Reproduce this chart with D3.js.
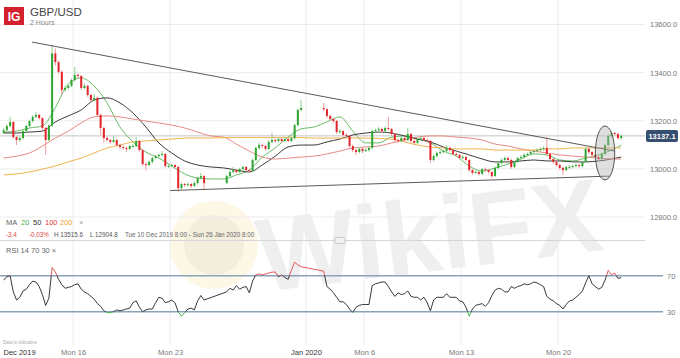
<!DOCTYPE html>
<html><head><meta charset="utf-8">
<script src="https://cdn.jsdelivr.net/npm/d3@7"></script>
<style>body{margin:0;background:#fff}svg{display:block;font-family:"Liberation Sans",Arial,sans-serif}</style>
</head><body><svg id="c" width="680" height="358"></svg>
<script>
// ---- data (4-hour bars from Tue 10 Dec 2019 08:00, trading hours only; null = holiday) ----
const firstOpen = 13150;
const closes = [13161,13178,13195,13132,13120,13128,13157,13178,13199,13216,
13224,13211,13170,13120,13180,13480,13444,13403,13328,13336,
13345,13369,13390,13386,13336,13345,13307,13286,13295,13224,
13170,13128,13120,13112,13120,13099,13091,13087,13083,13095,
13095,13116,13078,13020,13016,13029,13045,13053,13058,13062,
13012,13012,13016,13008,12920,12937,12933,12937,12929,12941,
12962,12970,12941,null,null,null,null,null,null,12970,
12987,12995,12987,12999,13008,12995,12991,13037,13087,13099,
13095,13083,13112,13120,13116,13124,13116,13124,13116,13128,
13182,13245,13253,null,null,null,null,null,null,13248,
13220,13207,13199,13153,13157,13141,13137,13095,13078,13070,
13083,13074,13078,13087,13157,13161,13166,13157,13170,13166,
13145,13120,13116,13128,13120,13145,13116,13108,13124,13128,
13120,13116,13037,13053,13066,13070,13074,13087,13078,13062,
13058,13045,13049,13037,12995,12983,12987,12979,12999,12995,
12987,12970,13004,13024,13037,13045,13037,13008,13029,13045,
13049,13058,13062,13070,13074,13078,13083,13087,13062,13041,
13029,13016,13004,12995,13008,13008,13012,13016,13012,13029,
13083,13070,13058,13049,13041,13062,13099,13137,13149,13145,
13128,13137.1];
const highs = [13170,13186,13216,13198,13137,13135,13162,13184,13205,13224,
13236,13230,13214,13175,13186,13515.6,13500,13450,13410,13345,
13352,13375,13423,13398,13390,13355,13350,13312,13311,13300,
13230,13175,13135,13126,13137,13125,13104,13096,13092,13100,
13104,13132,13120,13083,13026,13035,13050,13058,13064,13074,
13066,13020,13022,13020,13012,12944,12942,12945,12941,12948,
12968,12983,12975,null,null,null,null,null,null,12976,
12994,13008,13000,13005,13014,13012,13000,13043,13093,13108,
13105,13100,13118,13149,13126,13130,13130,13132,13130,13135,
13188,13252,13286,null,null,null,null,null,null,13274,
13252,13226,13212,13204,13166,13162,13148,13140,13100,13084,
13090,13090,13086,13094,13163,13168,13174,13172,13177,13216,
13170,13150,13126,13134,13133,13170,13150,13122,13130,13136,
13134,13126,13120,13060,13072,13078,13080,13099,13092,13082,
13068,13062,13056,13054,13040,13000,12994,12992,13004,13006,
13000,12992,13010,13030,13043,13052,13050,13042,13034,13050,
13056,13064,13068,13076,13080,13084,13090,13094,13132,13066,
13046,13034,13020,13010,13014,13016,13018,13022,13022,13034,
13090,13088,13074,13062,13054,13068,13105,13143,13156,13154,
13150,13143];
const lows = [13145,13155,13172,13125,13099,13112,13122,13150,13172,13193,
13210,13205,13162,13058,13115,13175,13430,13395,13307,13320,
13330,13340,13362,13375,13328,13330,13300,13278,13280,13215,
13141,13108,13112,13104,13106,13092,13083,13080,13070,13078,
13088,13090,13072,13012,12995,13010,13022,13040,13048,13052,
13005,13004,13006,13000,12904.8,12912,12925,12926,12920,12924,
12935,12955,12912,null,null,null,null,null,null,12936,
12964,12982,12980,12982,12993,12988,12984,12986,13030,13080,
13088,13076,13078,13106,13108,13110,13108,13110,13110,13110,
13122,13176,13240,null,null,null,null,null,null,13240,
13212,13200,13190,13145,13146,13134,13130,13088,13070,13058,
13064,13066,13070,13072,13082,13150,13155,13150,13152,13158,
13138,13112,13108,13110,13112,13114,13108,13100,13102,13118,
13114,13110,13024,13030,13048,13060,13064,13068,13072,13056,
13050,13040,13040,13030,12988,12975,12978,12972,12974,12988,
12980,12962,12966,12998,13018,13032,13030,13000,13002,13024,
13040,13044,13052,13056,13064,13068,13072,13076,13056,13034,
13022,13010,12996,12975,12990,13000,13002,13006,13004,13006,
13024,13062,13050,13042,13034,13036,13056,13092,13130,13138,
13122,13122];
const rsiValues = [65,69,70,52,43,46,53,55,60,64,
63,58,49,37,45,79,74,66,60,56,
57,58,60,61,55,52,50,47,44,39,
36,31,29,29,30,32,31,32,33,34,
40,42,35,30,32,33,33,40,46,45,
40,41,43,40,30,25,29,33,34,32,
42,48,43,null,null,null,null,null,null,52,
56,54,59,55,57,58,51,64,71,72,
71,72,73,74,74,69,71,68,66,76,
85,82,80,null,null,null,null,null,null,75,
58,55,51,46,41,41,38,33,29,35,
37,38,38,38,59,61,62,63,63,58,
52,47,51,49,50,53,47,46,46,43,
46,40,31,43,46,46,46,50,46,46,
46,42,41,35,25,33,37,38,39,36,
40,48,54,56,55,52,52,58,56,58,
59,61,60,61,63,62,60,58,47,44,
42,39,37,33,38,42,43,46,49,53,
62,70,61,58,55,57,65,76,71,73,
67,68];
// moving averages sampled every 4th bar (plus the last bar)
const ma20 = [13153,13157,13170,13178,13255,13353,13378,13344,13274,13174,
13112,13070,13045,13012,12979,12962,12958,12958,12975,12995,
13049,13087,13132,13166,13174,13195,13216,13157,13108,13108,
13132,13137,13124,13108,13074,13053,13012,12991,13004,13020,
13041,13062,13058,13037,13033,13045,13058,13078,13099];
const ma50 = [13149,13149,13153,13157,13195,13220,13245,13286,13295,13274,
13232,13174,13108,13066,13033,13016,13008,13004,12995,12987,
13016,13053,13091,13099,13099,13112,13124,13141,13149,13153,
13149,13137,13124,13112,13091,13074,13058,13041,13029,13029,
13033,13037,13033,13033,13029,13029,13033,13041,13049];
const ma100 = [13045,13053,13066,13095,13128,13157,13191,13216,13220,13216,
13207,13199,13191,13182,13170,13153,13137,13132,13103,13074,
13049,13041,13045,13049,13053,13062,13074,13087,13091,13095,
13108,13120,13132,13137,13137,13132,13128,13120,13103,13095,
13083,13074,13066,13058,13053,13049,13045,13041,13041];
const ma200 = [12975,12979,12987,12999,13012,13029,13045,13066,13087,13099,
13112,13116,13120,13124,13128,13128,13128,13130,13130,13130,
13130,13130,13130,13130,13128,13128,13128,13128,13128,13126,
13124,13112,13099,13091,13087,13083,13083,13083,13078,13078,
13078,13078,13083,13083,13087,13087,13087,13087,13087];
const maNames = ["20","50","100","200"];
const priceTicks = [12800,13000,13200,13400,13600];
const timeTickHours = [0,88,208,376,448,568,688];
const timeTickLabels = ["Dec 2019","Mon 16","Mon 23","Jan 2020","Mon 6","Mon 13","Mon 20"];
const trendUpper = [[37,13527],[758,13074]];
const trendLower = [[208,12910],[752,12970]];
const highlight = {h0:734, h1:758, p0:12954, p1:13178};
const lastPrice = 13137.1;
const rsiLevels = [70,30];

// ---- drawing ----
const svg = d3.select("#c");
const FONT = '"Liberation Sans",Arial,sans-serif';
const x = d3.scaleLinear().domain([0,768]).range([2,622.8]);
const barHour = i => i*4+2;
const y = d3.scaleLinear().domain([12800,13600]).range([217,24.5]);
const yr = d3.scaleLinear().domain([30,70]).range([311.7,275.7]);
const plotR = 645;

svg.append("rect").attr("width",680).attr("height",358).attr("fill","#fff");

// watermark
const wm = svg.append("g").attr("pointer-events","none");
wm.append("circle").attr("cx",214).attr("cy",245).attr("r",44).attr("fill","#f2c94c").attr("opacity",0.14);
wm.append("circle").attr("cx",214).attr("cy",245).attr("r",30).attr("fill","#9a9a9a").attr("opacity",0.10);
wm.append("text").attr("x",262).attr("y",292).attr("transform","rotate(-7 262 292)")
  .attr("font-family",FONT).attr("font-weight","bold").attr("font-size",104)
  .attr("fill","#8a8a8a").attr("opacity",0.13).text("WikiFX");

// grid
svg.append("g").selectAll("line").data(priceTicks).join("line")
  .attr("x1",0).attr("x2",plotR).attr("y1",d=>y(d)).attr("y2",d=>y(d))
  .attr("stroke","#ececec").attr("stroke-width",1);
svg.append("g").selectAll("line").data(timeTickHours.slice(1)).join("line")
  .attr("x1",d=>x(d)).attr("x2",d=>x(d)).attr("y1",0).attr("y2",345)
  .attr("stroke","#ececec").attr("stroke-width",1);

// last price line
svg.append("line").attr("x1",0).attr("x2",plotR).attr("y1",y(lastPrice)).attr("y2",y(lastPrice))
  .attr("stroke","#c4c4c4").attr("stroke-width",1);

// moving averages
const maIdx = d3.range(0,189,4).concat([191]);
const maColors = ["#66bb66","#3a3a3a","#e88a84","#f2b24e"];
[ma20,ma50,ma100,ma200].forEach((arr,k)=>{
  const line = d3.line().x((d,i)=>x(barHour(maIdx[i]))).y(d=>y(d)).curve(d3.curveMonotoneX);
  svg.append("path").attr("d",line(arr)).attr("fill","none")
    .attr("stroke",maColors[k]).attr("stroke-width",1);
});

// candles
const bars = [];
let prev = firstOpen;
closes.forEach((c,i)=>{
  if (c==null) return;
  bars.push({i, o:prev, c, h:highs[i], l:lows[i]});
  prev = c;
});
const cg = svg.append("g");
cg.selectAll("line").data(bars).join("line")
  .attr("x1",d=>x(barHour(d.i))).attr("x2",d=>x(barHour(d.i)))
  .attr("y1",d=>y(d.h)).attr("y2",d=>y(d.l))
  .attr("stroke",d=>d.c>=d.o?"#8fcf8c":"#f09a9a").attr("stroke-width",1);
cg.selectAll("rect").data(bars).join("rect")
  .attr("x",d=>x(barHour(d.i))-1).attr("width",2)
  .attr("y",d=>y(Math.max(d.o,d.c)))
  .attr("height",d=>Math.max(1,Math.abs(y(d.o)-y(d.c))))
  .attr("fill",d=>d.c>=d.o?"#2fa534":"#e2252b");

// trendlines
[trendUpper,trendLower].forEach(t=>{
  svg.append("line").attr("x1",x(t[0][0])).attr("y1",y(t[0][1]))
    .attr("x2",x(t[1][0])).attr("y2",y(t[1][1]))
    .attr("stroke","#5a5a5a").attr("stroke-width",1);
});

// highlight ellipse
svg.append("ellipse")
  .attr("cx",(x(highlight.h0)+x(highlight.h1))/2).attr("cy",(y(highlight.p0)+y(highlight.p1))/2)
  .attr("rx",(x(highlight.h1)-x(highlight.h0))/2).attr("ry",(y(highlight.p0)-y(highlight.p1))/2)
  .attr("fill","#b0b0b0").attr("fill-opacity",0.4).attr("stroke","#555").attr("stroke-width",1);

// price axis
const pa = svg.append("g").attr("transform","translate(650,0)")
  .call(d3.axisRight(y).tickValues(priceTicks).tickFormat(d3.format(".1f")).tickSize(0).tickPadding(0));
pa.select(".domain").remove();
pa.selectAll("text").attr("font-family",FONT).attr("font-size",7.5).attr("fill","#777");

// last price tag
svg.append("rect").attr("x",646).attr("y",y(lastPrice)-6).attr("width",32).attr("height",12)
  .attr("rx",2).attr("fill","#364f70");
svg.append("text").attr("x",662).attr("y",y(lastPrice)).attr("dy","0.35em").attr("text-anchor","middle")
  .attr("font-family",FONT).attr("font-size",7.5).attr("font-weight","bold").attr("fill","#fff")
  .text(d3.format(".1f")(lastPrice));

// header
svg.append("rect").attr("x",4).attr("y",7).attr("width",20).attr("height",18).attr("fill","#d3212d");
svg.append("text").attr("x",14).attr("y",21).attr("text-anchor","middle").attr("font-family",FONT)
  .attr("font-weight","bold").attr("font-size",12).attr("fill","#fff").text("IG");
svg.append("text").attr("x",30).attr("y",15.5).attr("font-family",FONT).attr("font-size",11.5)
  .attr("fill","#444").text("GBP/USD");
svg.append("text").attr("x",30).attr("y",24.5).attr("font-family",FONT).attr("font-size",7)
  .attr("fill","#888").text("2 Hours");

// MA legend
const leg = [["MA",6,"#666"],["20",21,"#4caf50"],["50",33,"#333"],["100",45,"#e53935"],["200",60,"#f0a030"],["×",79,"#999"]];
svg.append("g").selectAll("text").data(leg).join("text")
  .attr("x",d=>d[1]).attr("y",225).attr("font-family",FONT).attr("font-size",7.5)
  .attr("fill",d=>d[2]).text(d=>d[0]);
const info = [["-3.4",6,"#e04444"],["-0.03%",29,"#e04444"],["H 13515.6",54,"#555"],["L 12904.8",90,"#555"],
  ["Tue 10 Dec 2019 8:00 - Sun 26 Jan 2020 8:00",125,"#666"]];
svg.append("g").selectAll("text").data(info).join("text")
  .attr("x",d=>d[1]).attr("y",236.5).attr("font-family",FONT).attr("font-size",6.3)
  .attr("fill",d=>d[2]).text(d=>d[0]);

// separator
svg.append("line").attr("x1",0).attr("x2",plotR).attr("y1",240.5).attr("y2",240.5).attr("stroke","#d6d6d6");
svg.append("rect").attr("x",335).attr("y",237.5).attr("width",10).attr("height",6).attr("rx",1)
  .attr("fill","#f2f2f2").attr("stroke","#bbb").attr("stroke-width",0.7);

// RSI panel
svg.append("text").attr("x",6).attr("y",253).attr("font-family",FONT).attr("font-size",7.5)
  .attr("fill","#666").text("RSI 14 70 30 ×");
svg.append("g").selectAll("line").data(rsiLevels).join("line")
  .attr("x1",0).attr("x2",663).attr("y1",d=>yr(d)).attr("y2",d=>yr(d))
  .attr("stroke","#8aa3bb").attr("stroke-width",1.5);
const ra = svg.append("g").attr("transform","translate(667,0)")
  .call(d3.axisRight(yr).tickValues(rsiLevels).tickSize(0).tickPadding(0));
ra.select(".domain").remove();
ra.selectAll("text").attr("font-family",FONT).attr("font-size",7.5).attr("fill","#777");

const defs = svg.append("defs");
const clips = [["cHi",242,yr(70),"#e04848"],["cMid",yr(70),yr(30),"#222"],["cLo",yr(30),346,"#3faa3f"]];
clips.forEach(c=>{
  defs.append("clipPath").attr("id",c[0]).append("rect")
    .attr("x",0).attr("y",c[1]).attr("width",680).attr("height",c[2]-c[1]);
});
const rsiPts = rsiValues.map((v,i)=>v==null?null:[barHour(i),v]).filter(d=>d);
const rsiLine = d3.line().x(d=>x(d[0])).y(d=>yr(d[1]));
clips.forEach(c=>{
  svg.append("path").attr("d",rsiLine(rsiPts)).attr("fill","none").attr("stroke",c[3])
    .attr("stroke-width",0.9).attr("clip-path",`url(#${c[0]})`);
});

svg.append("text").attr("x",3).attr("y",344).attr("font-family",FONT).attr("font-size",4.5)
  .attr("fill","#aaa").text("Data is indicative");

// time axis
const ta = svg.append("g").attr("transform","translate(0,346)")
  .call(d3.axisBottom(x).tickValues(timeTickHours).tickFormat((d,i)=>timeTickLabels[i]).tickSize(0).tickPadding(3.5));
ta.select(".domain").remove();
ta.selectAll("text").attr("font-family",FONT).attr("font-size",7.5)
  .attr("fill",(d,i)=>(i===0||i===3)?"#333":"#777");
ta.selectAll("text").filter((d,i)=>i===0).attr("text-anchor","start").attr("x",1);
</script></body></html>
